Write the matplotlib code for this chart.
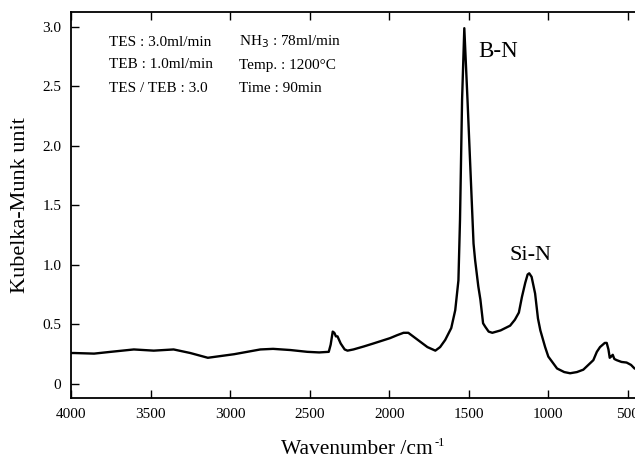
import matplotlib
matplotlib.use("Agg")
import matplotlib.pyplot as plt
from matplotlib.ticker import FuncFormatter

plt.rcParams['font.family'] = ['Liberation Serif', 'DejaVu Serif']

wavenumber = [4000, 3980, 3855, 3750, 3605, 3480, 3355, 3250, 3140, 2975, 2810, 2730,
              2620, 2515, 2440, 2380, 2368, 2355, 2345, 2335, 2325, 2305, 2280, 2262,
              2225, 2160, 2100, 1995, 1950, 1910, 1880, 1850, 1800, 1760, 1710, 1680,
              1648, 1610, 1585, 1565, 1555, 1542, 1528, 1508, 1470, 1460, 1440, 1427,
              1410, 1396, 1375, 1352, 1300, 1240, 1210, 1185, 1166, 1145, 1130, 1120,
              1105, 1083, 1065, 1050, 1020, 1000, 945, 900, 863, 820, 780, 717, 695,
              675, 645, 633, 622, 614, 605, 595, 585, 570, 540, 508, 480, 458, 430]
km_unit = [0.26, 0.26, 0.255, 0.27, 0.29, 0.28, 0.29, 0.26, 0.22, 0.25, 0.29, 0.295,
           0.285, 0.27, 0.265, 0.27, 0.33, 0.44, 0.43, 0.40, 0.40, 0.34, 0.29, 0.28,
           0.29, 0.315, 0.34, 0.385, 0.41, 0.43, 0.43, 0.40, 0.35, 0.31, 0.28, 0.31,
           0.37, 0.47, 0.62, 0.87, 1.38, 2.39, 2.99, 2.39, 1.18, 1.04, 0.82, 0.71,
           0.51, 0.48, 0.44, 0.43, 0.45, 0.49, 0.54, 0.60, 0.73, 0.85, 0.92, 0.93,
           0.90, 0.76, 0.55, 0.45, 0.31, 0.23, 0.13, 0.10, 0.09, 0.10, 0.12, 0.20, 0.27,
           0.31, 0.345, 0.345, 0.29, 0.22, 0.23, 0.245, 0.21, 0.20, 0.185, 0.18, 0.16, 0.13, 0.12]

x_ticks = [4000, 3500, 3000, 2500, 2000, 1500, 1000, 500]
y_ticks = [0, 0.5, 1.0, 1.5, 2.0, 2.5, 3.0]

conditions_left = ["TES : 3.0ml/min", "TEB : 1.0ml/min", "TES / TEB : 3.0"]
conditions_right = ["NH$_3$ : 78ml/min", "Temp. : 1200°C", "Time : 90min"]

fig = plt.figure(figsize=(6.35, 4.58), dpi=100)
ax = fig.add_axes([71/635, 60/458, 568/635, 386/458])
ax.plot(wavenumber, km_unit, color='black', lw=1.7, solid_joinstyle='round')
ax.set_xlim(4000, 430)
ax.set_ylim(-0.118, 3.126)
ax.set_xticks(x_ticks)
ax.set_yticks(y_ticks)
ax.yaxis.set_major_formatter(FuncFormatter(lambda v, p: "0" if v == 0 else f"{v:.1f}"))
ax.tick_params(direction='in', top=True, right=False, labelsize=11, length=6, width=1, pad=7)
for s in ax.spines.values():
    s.set_linewidth(1.3)

xl = fig.text(357/635, 1 - 450/458, "Wavenumber /cm", fontsize=15.5, ha='center', va='center')
ax.annotate("-1", xy=(1, 1), xycoords=xl, xytext=(1, 2.5), textcoords='offset points',
            fontsize=9, ha='left', va='top')
ax.set_ylabel("Kubelka-Munk unit", fontsize=16, labelpad=9)

for i, (a, b) in enumerate(zip(conditions_left, conditions_right)):
    y = 42 + i * 23
    fig.text(109/635, 1 - y/458, a, fontsize=11, va='center', ha='left')
    fig.text(239/635, 1 - y/458, b, fontsize=11, va='center', ha='left')

ax.annotate("B-N", xy=(1442, 2.79), fontsize=16.5, ha='left', va='center')
ax.annotate("Si-N", xy=(1247, 1.08), fontsize=16, ha='left', va='center')

fig.savefig("out.png", dpi=100)
